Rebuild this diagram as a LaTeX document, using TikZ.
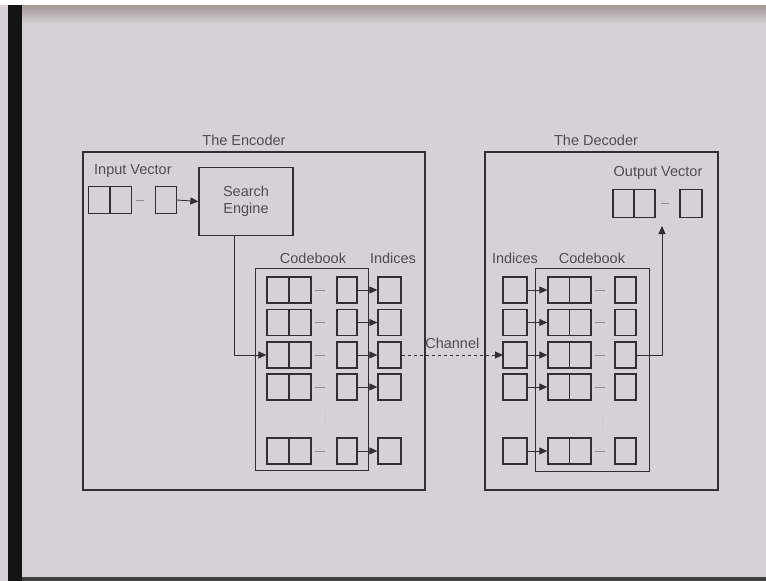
\documentclass[tikz,border=0pt]{standalone}
\usepackage{fontspec}
\setmainfont{Liberation Sans}
\usetikzlibrary{arrows.meta}
\definecolor{bg}{RGB}{214,209,212}
\definecolor{bgdark}{RGB}{160,152,148}
\definecolor{ink}{RGB}{50,47,50}
\definecolor{txt}{RGB}{80,77,80}
\begin{document}
\begin{tikzpicture}[x=1pt,y=-1pt,
  frame/.style={draw=ink, line width=1.6pt, inner sep=0pt, anchor=north west},
  cellbox/.style={draw=ink, line width=1.3pt, minimum height=26pt, inner sep=0pt, minimum width=21pt},
  dblbox/.style={cellbox, minimum width=44pt},
  lbl/.style={text=txt, font=\fontsize{14.5}{16}\selectfont, inner sep=0pt},
  arr/.style={draw=ink, line width=0.9pt, -{Triangle[length=8pt,width=7pt]}},
  dashmark/.style={draw=ink!55, line width=0.9pt},
  faint/.style={draw=ink!30, line width=0.8pt}
]
% background (photo of a slide)
\fill[bg] (0,0) rectangle (766,581);
\useasboundingbox (0,0) rectangle (766,581);
\fill[white] (0,0) rectangle (766,5);
\shade[top color=bgdark, bottom color=bg] (22,5) rectangle (766,24);
\fill[black!92] (8,5) rectangle (22,581);
\fill[black!75] (22,577) rectangle (766,581);

% ===== Encoder =====
\node[frame, minimum width=342pt, minimum height=338pt] (enc) at (82,151) {};
\node[lbl] (enctitle) at (244,140) {The Encoder};
\node[lbl, anchor=west] (inlbl) at (94,171) {Input Vector};
\node[cellbox, minimum width=43pt, minimum height=27pt] (in1) at (110,200) {};
\draw[draw=ink, line width=1.3pt] (in1.north) -- (in1.south);
\node[inner sep=0pt, minimum width=8pt] (indash) at (140,200) {};
\draw[dashmark] (indash.west) -- (indash.east);
\node[cellbox, minimum width=21pt, minimum height=27pt] (in2) at (166,200) {};
\node[draw=ink, line width=1.3pt, minimum width=94pt, minimum height=68pt,
      inner sep=0pt, align=center, text=txt, font=\fontsize{14.5}{17}\selectfont] (search) at (246,201.5) {Search\\Engine};
\draw[arr] (in2.east) -- (search.west);

\node[frame, draw=ink, line width=1.3pt, minimum width=113pt, minimum height=202pt] (ecb) at (255,268) {};
\node[lbl] (ecblbl) at (313,258) {Codebook};
\node[lbl] (eidxlbl) at (393,258) {Indices};

\foreach \i/\y in {1/290,2/322.5,3/355,4/387,5/451}{
  \node[dblbox] (ea\i) at (289,\y) {};
  \draw[draw=ink, line width=1.3pt] (ea\i.north) -- (ea\i.south);
  \node[inner sep=0pt, minimum width=9pt] (ed\i) at (320,\y) {};
  \draw[dashmark] (ed\i.west) -- (ed\i.east);
  \node[cellbox, minimum width=20pt] (eb\i) at (347,\y) {};
  \node[cellbox, minimum width=23pt] (ec\i) at (389.5,\y) {};
  \draw[arr] (eb\i.east) -- (ec\i.west);
}
\draw[faint, dotted] (325,412) -- (325,428);

% search engine to codebook
\draw[arr] ([xshift=-12pt]search.south) |- (ea3.west);

% ===== Channel =====
\draw[arr, dashed] (ec3.east) -- node[lbl, above=6pt] (chan) {Channel} (503,355);

% ===== Decoder =====
\node[frame, minimum width=233pt, minimum height=338pt] (dec) at (484,151) {};
\node[lbl] (dectitle) at (596,140) {The Decoder};
\node[lbl] (outlbl) at (658,173) {Output Vector};
\node[cellbox, minimum width=42pt, minimum height=28pt] (out1) at (634,203.5) {};
\draw[draw=ink, line width=1.3pt] (out1.north) -- (out1.south);
\node[inner sep=0pt, minimum width=8pt] (outdash) at (665,203.5) {};
\draw[dashmark] (outdash.west) -- (outdash.east);
\node[cellbox, minimum width=22pt, minimum height=28pt] (out2) at (691,203.5) {};

\node[frame, draw=ink, line width=1.3pt, minimum width=114pt, minimum height=203pt] (dcb) at (535,268) {};
\node[lbl] (didxlbl) at (515,258) {Indices};
\node[lbl] (dcblbl) at (592,258) {Codebook};

\foreach \i/\y in {1/290,2/322.5,3/355,4/387,5/451}{
  \node[cellbox, minimum width=24pt] (di\i) at (515,\y) {};
  \node[dblbox, minimum width=43pt] (da\i) at (569.5,\y) {};
  \draw[draw=ink, line width=1.3pt] (da\i.north) -- (da\i.south);
  \node[inner sep=0pt, minimum width=9pt] (dd\i) at (600,\y) {};
  \draw[dashmark] (dd\i.west) -- (dd\i.east);
  \node[cellbox, minimum width=21pt] (db\i) at (625.5,\y) {};
  \draw[arr] (di\i.east) -- (da\i.west);
}
\draw[faint, dotted] (602,414) -- (602,430);

\coordinate (outtip) at (662,226);
\draw[arr] (db3.east) -| (outtip);
\end{tikzpicture}
\end{document}
